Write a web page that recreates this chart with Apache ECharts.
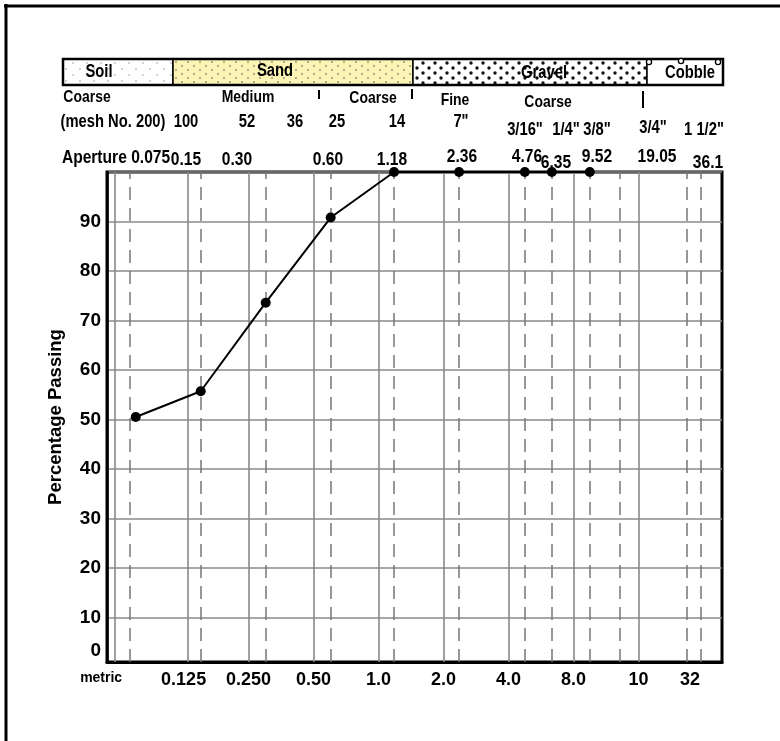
<!DOCTYPE html>
<html><head><meta charset="utf-8">
<script src="https://cdn.jsdelivr.net/npm/echarts@6/dist/echarts.min.js"></script>
<style>html,body{margin:0;padding:0;background:#fff}#c{width:780px;height:741px}</style>
</head><body><div id="c"></div>
<script>
// ---------- data ----------
const apertureMm = [0.075, 0.15, 0.30, 0.60, 1.18, 2.36, 4.76, 6.35, 9.52];
const percentPassing = [50.5, 55.7, 73.6, 90.8, 100, 100, 100, 100, 100];
const solidGridSizes = [0.0625, 0.125, 0.25, 0.5, 1, 2, 4, 8, 16];
const dashedGridSizes = [0.075, 0.15, 0.30, 0.60, 1.18, 2.36, 4.76, 6.35, 9.52, 13.1, 26.8, 31.2];
const metricTickValues = [0.0625, 0.125, 0.25, 0.5, 1, 2, 4, 8, 16, 32];
const metricTickLabels = ['metric', '0.125', '0.250', '0.50', '1.0', '2.0', '4.0', '8.0', '10', '32'];
const soilClasses = ['Soil', 'Sand', 'Gravel', 'Cobble'];
const gradeLabels = ['Coarse', 'Medium', 'Coarse', 'Fine', 'Coarse'];
const meshLabels = ['(mesh No. 200)', '100', '52', '36', '25', '14', '7"', '3/16"', '1/4"', '3/8"', '3/4"', '1 1/2"'];
const apertureLabels = ['Aperture 0.075', '0.15', '0.30', '0.60', '1.18', '2.36', '4.76', '6.35', '9.52', '19.05', '36.1'];
const yAxisTitle = 'Percentage Passing';

// ---------- layout ----------
const FONT = "'Liberation Sans',Arial,sans-serif";
const NARROW = 0.82;
const gradePos = [[87, 97], [248, 97], [373, 98], [455, 100], [548, 102]];
const meshPos = [[113, 122], [186, 122], [247, 122], [295, 122], [337, 122], [397, 122], [461, 122], [525, 130], [566, 130], [597, 130], [653, 128], [704, 130]];
const aperturePos = [[116, 158], [186, 160], [237, 160], [328, 160], [392, 160], [462, 157], [527, 157], [556, 163], [597, 157], [657, 157], [708, 163]];
const bandY = 59, bandH = 26;
const bandX = [63, 173, 413, 647, 723];
const bandTextPos = [[99, 72], [275, 71], [544, 73], [690, 73]];

function makePattern(w, h, bg, dots, r, color) {
  const c = document.createElement('canvas');
  c.width = w; c.height = h;
  const g = c.getContext('2d');
  g.fillStyle = bg; g.fillRect(0, 0, w, h);
  g.fillStyle = color;
  dots.forEach(function (d) { g.beginPath(); g.arc(d[0], d[1], r, 0, Math.PI * 2); g.fill(); });
  return c;
}
const fills = [
  { image: makePattern(14, 12, '#ffffff', [[3, 3], [10, 9]], 0.7, '#888'), repeat: 'repeat' },
  { image: makePattern(12, 8, '#fcf4b4', [[2, 2], [8, 6]], 0.8, '#555'), repeat: 'repeat' },
  { image: makePattern(12, 10, '#ffffff', [[3, 3], [9, 8]], 1.7, '#111'), repeat: 'repeat' },
  '#ffffff'
];

function txt(text, x, y, size) {
  return { type: 'text', x: x, y: y, scaleX: NARROW, z: 10, silent: true,
    style: { text: text, x: 0, y: 0, font: 'bold ' + size + 'px ' + FONT, fill: '#000',
      align: 'center', verticalAlign: 'middle', textAlign: 'center', textVerticalAlign: 'middle' } };
}
function ln(x1, y1, x2, y2, w) {
  return { type: 'line', z: 10, silent: true, shape: { x1: x1, y1: y1, x2: x2, y2: y2 }, style: { stroke: '#000', lineWidth: w } };
}

const graphics = [];
graphics.push(ln(4, 6, 780, 6, 3));
graphics.push(ln(6, 4, 6, 741, 3));
for (let i = 0; i < 4; i++) {
  graphics.push({ type: 'rect', z: 9, silent: true,
    shape: { x: bandX[i], y: bandY, width: bandX[i + 1] - bandX[i], height: bandH },
    style: { fill: fills[i], stroke: '#000', lineWidth: 1.5 } });
  graphics.push(txt(soilClasses[i], bandTextPos[i][0], bandTextPos[i][1], 18));
}
graphics.push({ type: 'rect', z: 10, silent: true, shape: { x: bandX[0], y: bandY, width: bandX[4] - bandX[0], height: bandH },
  style: { fill: null, stroke: '#000', lineWidth: 2.5 } });
[[649, 62], [681, 61], [718, 62]].forEach(function (p) {
  graphics.push({ type: 'circle', z: 11, silent: true, shape: { cx: p[0], cy: p[1], r: 2.6 }, style: { fill: '#fff', stroke: '#000', lineWidth: 1.3 } });
});
gradeLabels.forEach(function (t, i) { graphics.push(txt(t, gradePos[i][0], gradePos[i][1], 17)); });
graphics.push(ln(319, 90, 319, 99, 2));
graphics.push(ln(412, 89, 412, 99, 2));
graphics.push(ln(643, 91, 643, 108, 2));
meshLabels.forEach(function (t, i) { graphics.push(txt(t, meshPos[i][0], meshPos[i][1], 18)); });
apertureLabels.forEach(function (t, i) { graphics.push(txt(t, aperturePos[i][0], aperturePos[i][1], 19)); });

function tickLabel(v) {
  for (let i = 0; i < metricTickValues.length; i++) {
    if (Math.abs(Math.log2(v) - Math.log2(metricTickValues[i])) < 1e-6) {
      if (i === 0) return '{m|' + metricTickLabels[i] + '}';
      if (i === metricTickValues.length - 1) return '{e|' + metricTickLabels[i] + '}';
      return metricTickLabels[i];
    }
  }
  return '';
}

const chart = echarts.init(document.getElementById('c'));
chart.setOption({
  animation: false,
  backgroundColor: '#fff',
  grid: { left: 107, right: 58, top: 172, bottom: 79, show: true, borderColor: '#000', borderWidth: 3, backgroundColor: 'transparent' },
  xAxis: {
    type: 'log', logBase: 2, min: 0.0552, max: 39.0,
    axisLine: { show: true, lineStyle: { color: '#000', width: 3 } },
    axisTick: { show: false },
    splitLine: { show: false },
    axisLabel: {
      formatter: tickLabel, color: '#000', fontFamily: FONT, fontWeight: 'bold', fontSize: 18, margin: 9,
      showMinLabel: true, showMaxLabel: true,
      rich: {
        m: { fontFamily: FONT, fontWeight: 'bold', fontSize: 14, color: '#000', padding: [0, 35, 4, 0] },
        e: { fontFamily: FONT, fontWeight: 'bold', fontSize: 18, color: '#000', padding: [0, 27, 0, 0] }
      }
    }
  },
  yAxis: {
    type: 'value', min: 1, max: 100, splitNumber: 10,
    name: yAxisTitle, nameLocation: 'middle', nameRotate: 90, nameGap: 42,
    nameTextStyle: { fontFamily: FONT, fontWeight: 'bold', fontSize: 18.5, color: '#000' },
    axisLine: { show: true, lineStyle: { color: '#000', width: 2.5 } },
    axisTick: { show: false },
    splitLine: { show: true, lineStyle: { color: '#8a8a8a', width: 1.6 } },
    axisLabel: {
      color: '#000', fontFamily: FONT, fontWeight: 'bold', fontSize: 19, margin: 6,
      formatter: function (v) { if (v === 1) return '{z|0}'; if (v === 100) return ''; return String(v); },
      rich: { z: { fontFamily: FONT, fontWeight: 'bold', fontSize: 19, color: '#000', padding: [0, 0, 22, 0] } }
    }
  },
  series: [
    {
      type: 'line', data: [], z: 1, silent: true,
      markLine: { silent: true, symbol: ['none', 'none'], label: { show: false }, animation: false,
        lineStyle: { color: '#8a8a8a', width: 1.6, type: 'solid' },
        data: solidGridSizes.map(function (v) { return { xAxis: v }; }) }
    },
    {
      type: 'line', data: [], z: 1, silent: true,
      markLine: { silent: true, symbol: ['none', 'none'], label: { show: false }, animation: false,
        lineStyle: { color: '#777', width: 1.5, type: [13, 8] },
        data: dashedGridSizes.map(function (v) { return { xAxis: v }; }) }
    },
    {
      type: 'line', z: 5, silent: true,
      data: apertureMm.map(function (a, i) { return [a, percentPassing[i]]; }),
      symbol: 'circle', symbolSize: 10,
      itemStyle: { color: '#000' },
      lineStyle: { color: '#000', width: 2 }
    }
  ],
  graphic: { elements: graphics }
});
</script>
</body></html>
